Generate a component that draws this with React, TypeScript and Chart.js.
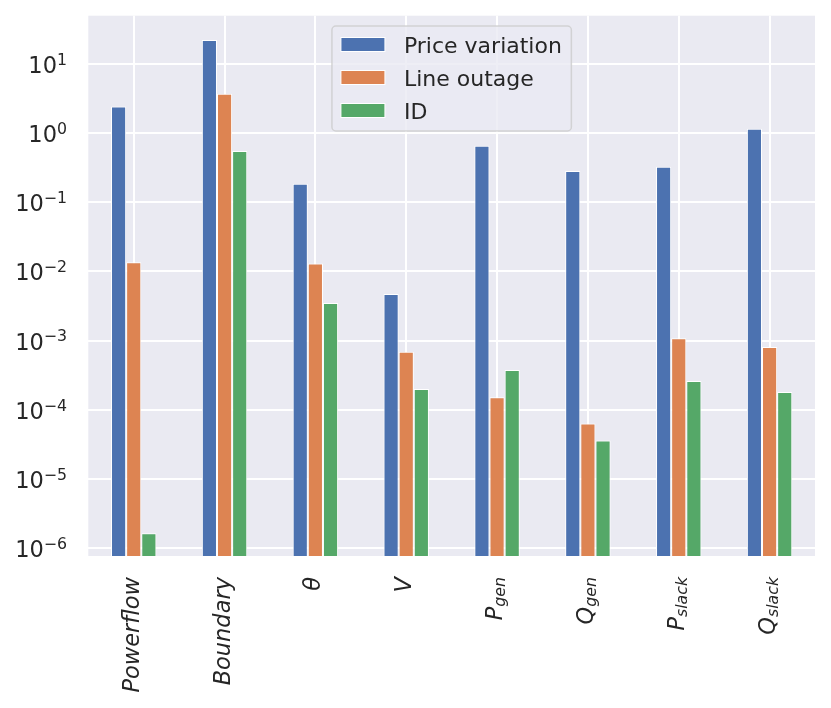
import { useEffect, useRef } from "react";
import { Chart, registerables } from "chart.js";

Chart.register(...registerables);

// ---- data ----
const categories = ["Powerflow", "Boundary", "θ", "V", "P_gen", "Q_gen", "P_slack", "Q_slack"];
const seriesNames = ["Price variation", "Line outage", "ID"];
const priceVariation = [2.42, 22.2, 0.185, 0.0047, 0.656, 0.283, 0.326, 1.15];
const lineOutage = [0.0136, 3.69, 0.013, 6.9e-4, 1.52e-4, 6.3e-5, 1.08e-3, 8.1e-4];
const idValues = [1.63e-6, 0.55, 3.49e-3, 2.0e-4, 3.74e-4, 3.6e-5, 2.6e-4, 1.8e-4];
const yTickExponents = [-6, -5, -4, -3, -2, -1, 0, 1];
const Y_MIN = Math.pow(10, -6.115);
const Y_MAX = Math.pow(10, 1.697);

const seriesValues = [priceVariation, lineOutage, idValues];
const colors = ["#4C72B0", "#DD8452", "#55A868"];
const FONT = '"DejaVu Sans", sans-serif';
const TEXT = "#262626";

const decorPlugin = {
  id: "decor",
  beforeDraw(chart: any) {
    const { ctx, chartArea: a } = chart;
    ctx.save();
    ctx.fillStyle = "#EAEAF2";
    ctx.fillRect(a.left, a.top, a.right - a.left, a.bottom - a.top);
    ctx.restore();
  },
  afterDatasetsDraw(chart: any) {
    const { ctx, chartArea: a } = chart;
    ctx.save();
    ctx.font = `22px ${FONT}`;
    const tw = Math.max(...seriesNames.map((n) => ctx.measureText(n).width));
    const w = 72 + tw + 9.5;
    const h = 105;
    const left = (a.left + a.right) / 2 - w / 2;
    const top = a.top + 10.3;
    ctx.beginPath();
    (ctx as any).roundRect(left, top, w, h, 4);
    ctx.fillStyle = "rgba(234,234,242,0.8)";
    ctx.fill();
    ctx.strokeStyle = "rgba(204,204,204,0.8)";
    ctx.lineWidth = 1.5;
    ctx.stroke();
    seriesNames.forEach((name, k) => {
      const cy = top + 18.5 + k * 33;
      ctx.fillStyle = colors[k];
      ctx.fillRect(left + 9, cy - 7, 44, 14);
      ctx.strokeStyle = "#ffffff";
      ctx.lineWidth = 1;
      ctx.strokeRect(left + 9, cy - 7, 44, 14);
      ctx.fillStyle = TEXT;
      ctx.textAlign = "left";
      ctx.textBaseline = "alphabetic";
      ctx.font = `22px ${FONT}`;
      ctx.fillText(name, left + 72, cy + 8);
    });
    ctx.restore();
  },
  afterDraw(chart: any) {
    const { ctx, chartArea: a } = chart;
    const ys = chart.scales.y;
    const xs = chart.scales.x;
    ctx.save();
    ctx.fillStyle = TEXT;
    ctx.textBaseline = "alphabetic";
    // y tick labels: 10^e
    for (const e of yTickExponents) {
      const py = ys.getPixelForValue(Math.pow(10, e));
      const sup = e < 0 ? "\u2212" + Math.abs(e) : String(e);
      const right = a.left - 21.3;
      ctx.textAlign = "right";
      ctx.font = `15.75px ${FONT}`;
      const sw = ctx.measureText(sup).width;
      ctx.fillText(sup, right, py + 0.8);
      ctx.font = `22.5px ${FONT}`;
      ctx.fillText("10", right - sw, py + 9);
    }
    // x tick labels: rotated 90°, italic, with subscripts
    const mainSize = 22.5;
    const subSize = 15.75;
    categories.forEach((label, i) => {
      const [base, sub] = label.split("_");
      const px = xs.getPixelForValue(i);
      ctx.font = `italic ${mainSize}px ${FONT}`;
      const bw = ctx.measureText(base).width;
      let sw = 0;
      if (sub) {
        ctx.font = `italic ${subSize}px ${FONT}`;
        sw = ctx.measureText(sub).width;
      }
      const total = bw + sw;
      ctx.save();
      ctx.translate(px + 5, a.bottom + 21);
      ctx.rotate(-Math.PI / 2);
      ctx.textAlign = "left";
      ctx.font = `italic ${mainSize}px ${FONT}`;
      ctx.fillText(base, -total, 0);
      if (sub) {
        ctx.font = `italic ${subSize}px ${FONT}`;
        ctx.fillText(sub, -total + bw, 3);
      }
      ctx.restore();
    });
    ctx.restore();
  },
};

export default function App() {
  const ref = useRef<HTMLCanvasElement>(null);
  useEffect(() => {
    const chart = new Chart(ref.current as HTMLCanvasElement, {
      type: "bar",
      data: {
        labels: categories,
        datasets: seriesNames.map((name, k) => ({
          label: name,
          data: seriesValues[k],
          backgroundColor: colors[k],
          borderColor: "#ffffff",
          borderWidth: 1,
          categoryPercentage: 0.5,
          barPercentage: 1.0,
        })),
      },
      options: {
        animation: false,
        responsive: false,
        layout: { padding: { top: 15.7, right: 16, bottom: 0, left: 0 } },
        plugins: { legend: { display: false }, tooltip: { enabled: false } },
        scales: {
          x: {
            type: "category",
            offset: true,
            grid: { offset: false, color: "#ffffff", lineWidth: 2, drawTicks: false },
            border: { display: false },
            ticks: { display: false },
            afterFit: (s: any) => {
              s.height = 152;
            },
          },
          y: {
            type: "logarithmic",
            min: Y_MIN,
            max: Y_MAX,
            grid: { color: "#ffffff", lineWidth: 2, drawTicks: false },
            border: { display: false },
            ticks: { display: false },
            afterBuildTicks: (s: any) => {
              s.ticks = yTickExponents.map((e) => ({ value: Math.pow(10, e) }));
            },
            afterFit: (s: any) => {
              s.width = 88.3;
            },
          },
        },
      } as any,
      plugins: [decorPlugin as any],
    });
    return () => chart.destroy();
  }, []);
  return (
    <div style={{ position: "fixed", left: 0, top: 0, width: 831, height: 708, background: "#ffffff" }}>
      <canvas ref={ref} width={831} height={708} style={{ width: 831, height: 708, display: "block" }} />
    </div>
  );
}
